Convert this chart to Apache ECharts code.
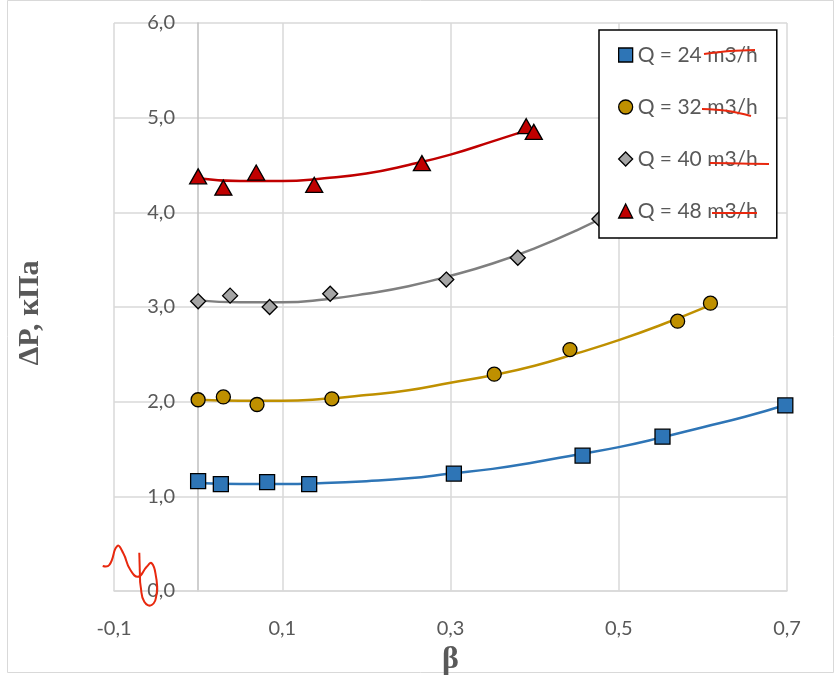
<!DOCTYPE html>
<html>
<head>
<meta charset="utf-8">
<script src="https://cdn.jsdelivr.net/npm/echarts@6/dist/echarts.min.js"></script>
<style>
  html, body { margin: 0; padding: 0; background: #fff; }
  #chart { width: 837px; height: 675px; }
</style>
</head>
<body>
<div id="chart"></div>
<script>
// Axis ticks
const xTicks = [-0.1, 0.1, 0.3, 0.5, 0.7];
const yTicks = [0, 1, 2, 3, 4, 5, 6];

// Legend labels
const seriesNames = ['Q = 24 m3/h', 'Q = 32 m3/h', 'Q = 40 m3/h', 'Q = 48 m3/h'];

// Measured points [β, ΔP (kPa)]
const q24 = [[0, 1.16], [0.027, 1.13], [0.082, 1.15], [0.132, 1.13], [0.304, 1.24], [0.457, 1.43], [0.552, 1.63], [0.698, 1.96]];
const q32 = [[0, 2.02], [0.030, 2.05], [0.070, 1.97], [0.159, 2.03], [0.352, 2.29], [0.442, 2.55], [0.570, 2.85], [0.609, 3.04]];
const q40 = [[0, 3.06], [0.038, 3.12], [0.085, 3.00], [0.157, 3.14], [0.295, 3.29], [0.380, 3.52], [0.477, 3.93]];
const q48 = [[0, 4.38], [0.030, 4.26], [0.069, 4.42], [0.138, 4.29], [0.266, 4.52], [0.390, 4.91], [0.399, 4.85]];

// Trend curves [β, ΔP]
const trend24 = [[0, 1.14], [0.05, 1.13], [0.1, 1.13], [0.15, 1.14], [0.2, 1.16], [0.25, 1.19], [0.3, 1.24], [0.35, 1.29], [0.4, 1.36], [0.45, 1.44], [0.5, 1.52], [0.55, 1.62], [0.6, 1.73], [0.65, 1.84], [0.7, 1.97]];
const trend32 = [[0, 2.02], [0.05, 2.01], [0.1, 2.01], [0.15, 2.03], [0.2, 2.07], [0.25, 2.12], [0.3, 2.20], [0.35, 2.28], [0.4, 2.38], [0.45, 2.51], [0.5, 2.65], [0.55, 2.81], [0.609, 3.02]];
const trend40 = [[0, 3.07], [0.05, 3.05], [0.1, 3.05], [0.15, 3.08], [0.2, 3.14], [0.25, 3.22], [0.3, 3.33], [0.35, 3.46], [0.4, 3.62], [0.45, 3.81], [0.5, 4.03]];
const trend48 = [[0, 4.36], [0.05, 4.33], [0.1, 4.33], [0.15, 4.36], [0.2, 4.41], [0.25, 4.50], [0.3, 4.61], [0.35, 4.75], [0.399, 4.89]];

const colors = ['#2E75B6', '#BF9000', '#A5A5A5', '#C00000'];
const lineColors = ['#2E75B6', '#BF9000', '#7F7F7F', '#C00000'];
const symbols = ['rect', 'circle', 'diamond', 'triangle'];
const symbolSizes = [15, 14, 15, [17, 15]];
const points = [q24, q32, q40, q48];
const trends = [trend24, trend32, trend40, trend48];

const tickFont = 'Lato, Carlito, sans-serif';
const textGray = '#595959';
const fmt = v => Number(v).toFixed(1).replace('.', ',');

const series = [];
trends.forEach((t, i) => {
  series.push({
    name: 'trend ' + i,
    type: 'line',
    data: t,
    smooth: true,
    showSymbol: false,
    silent: true,
    z: 2,
    lineStyle: { color: lineColors[i], width: 2.5 }
  });
});
points.forEach((p, i) => {
  series.push({
    name: seriesNames[i],
    type: 'scatter',
    data: p,
    symbol: symbols[i],
    symbolSize: symbolSizes[i],
    z: 3,
    itemStyle: { color: colors[i], borderColor: '#000', borderWidth: 1.3, opacity: 1 }
  });
});

const chart = echarts.init(document.getElementById('chart'), null, { renderer: 'canvas' });
chart.setOption({
  animation: false,
  backgroundColor: '#fff',
  grid: { left: 114, right: 50, top: 23, bottom: 84, containLabel: false, outerBoundsMode: 'none' },
  xAxis: {
    type: 'value',
    min: xTicks[0],
    max: xTicks[xTicks.length - 1],
    interval: xTicks[1] - xTicks[0],
    name: 'β',
    nameLocation: 'middle',
    nameGap: 27,
    nameTextStyle: { fontFamily: 'Liberation Serif, serif', fontWeight: 'bold', fontSize: 32, color: textGray },
    axisLine: { show: true, onZero: false, lineStyle: { color: '#D9D9D9', width: 1.5 } },
    axisTick: { show: false },
    axisLabel: { margin: 28, color: textGray, fontFamily: tickFont, fontSize: 20, formatter: fmt },
    splitLine: { show: true, lineStyle: { color: '#D9D9D9', width: 1.5 } }
  },
  yAxis: {
    type: 'value',
    min: yTicks[0],
    max: yTicks[yTicks.length - 1],
    interval: yTicks[1] - yTicks[0],
    name: 'ΔP, кПа',
    nameLocation: 'middle',
    nameRotate: 90,
    nameGap: 69,
    nameTextStyle: { fontFamily: 'Liberation Serif, serif', fontWeight: 'bold', fontSize: 30, color: textGray, padding: [0, 12, 0, 0] },
    axisLine: { show: true, onZero: true, lineStyle: { color: '#BFBFBF', width: 1.5 } },
    axisTick: { show: false },
    axisLabel: { margin: -61, color: textGray, fontFamily: tickFont, fontSize: 20, formatter: fmt },
    splitLine: { show: true, lineStyle: { color: '#D9D9D9', width: 1.5 } }
  },
  legend: {
    orient: 'vertical',
    left: 599,
    top: 30,
    padding: [13, 19, 15, 19],
    itemGap: 28,
    itemWidth: 14,
    itemHeight: 14,
    backgroundColor: '#fff',
    borderColor: '#000',
    borderWidth: 1.5,
    borderRadius: 0,
    z: 10,
    textStyle: { color: textGray, fontFamily: tickFont, fontSize: 21, lineHeight: 24 },
    data: seriesNames.map((n, i) => ({
      name: n,
      icon: symbols[i],
      itemStyle: { color: colors[i], borderColor: '#000', borderWidth: 1.3 }
    }))
  },
  graphic: [
    // chart area frame
    { type: 'rect', shape: { x: 7.5, y: 0.5, width: 826, height: 672 }, style: { fill: null, stroke: '#D9D9D9', lineWidth: 1 }, z: 0, silent: true },
    // hand-drawn strike-throughs over the unit text
    { type: 'polyline', shape: { points: [[704, 54], [730, 51], [755, 50]], smooth: 0.4 }, style: { stroke: '#E8280E', lineWidth: 2, fill: null }, z: 100 },
    { type: 'polyline', shape: { points: [[702, 109], [728, 111], [751, 116]], smooth: 0.4 }, style: { stroke: '#E8280E', lineWidth: 2, fill: null }, z: 100 },
    { type: 'polyline', shape: { points: [[710, 163], [740, 163.5], [769, 164]], smooth: 0.4 }, style: { stroke: '#E8280E', lineWidth: 2, fill: null }, z: 100 },
    { type: 'polyline', shape: { points: [[712, 213], [735, 213], [757, 213]], smooth: 0.4 }, style: { stroke: '#E8280E', lineWidth: 2, fill: null }, z: 100 },
    // squiggle near the origin
    { type: 'polyline', shape: { points: [[102.7, 566], [109.3, 565], [117.3, 546], [123.3, 553.3], [130, 569.3], [138.3, 576.7], [146.7, 566.7], [151.7, 563.3], [156, 576.7], [156.7, 593.3], [151.7, 605], [144.3, 601.7], [140.7, 586.7], [140, 576.7]], smooth: 0.5 }, style: { stroke: '#E8280E', lineWidth: 2, fill: null }, z: 100 },
    { type: 'polyline', shape: { points: [[139.3, 552.7], [140, 578]] }, style: { stroke: '#E8280E', lineWidth: 2, fill: null }, z: 100 }
  ],
  series: series
});
</script>
</body>
</html>
